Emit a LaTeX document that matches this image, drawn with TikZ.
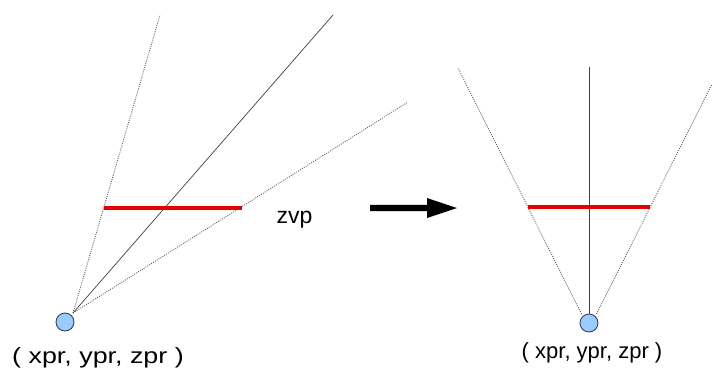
\documentclass[tikz,border=0pt]{standalone}
\usepackage{fontspec}
\setmainfont{Liberation Sans}
\definecolor{ptfill}{RGB}{153,204,255}
\definecolor{ptdraw}{RGB}{45,55,75}
\definecolor{rayred}{RGB}{228,0,0}
\definecolor{raygray}{RGB}{90,90,90}
\tikzset{
  pt/.style={circle, minimum size=18pt, inner sep=0pt, fill=ptfill, draw=ptdraw, line width=0.8pt},
  dotray/.style={draw=raygray, line width=0.9pt, dash pattern=on 0.9pt off 1.3pt},
  solidray/.style={draw=black!75, line width=0.7pt},
  plane/.style={draw=rayred, line width=3.2pt},
  lbl/.style={font=\fontsize{22}{26}\selectfont, inner sep=0pt, anchor=base},
  bigarrow/.style={fill=black}
}
\begin{document}
\begin{tikzpicture}[x=1pt,y=-1pt]
\useasboundingbox (0,0) rectangle (712,370);
% ---------- left diagram ----------
\coordinate (apexL) at (73,313);
\coordinate (topL1) at (160,15);
\coordinate (topL2) at (333,15);
\coordinate (topL3) at (408,102);
\coordinate (redL1) at (104,208);
\coordinate (redL2) at (242,208);
\draw[dotray] (apexL) -- (topL1);
\draw[dotray] (apexL) -- (topL3);
\draw[solidray] (apexL) -- (topL2);
\draw[plane] (redL1) -- (redL2);
\node[pt] (pl) at (65,322) {};
\node[lbl, xscale=1.22] (labL) at (98,363) {( xpr, ypr, zpr )};
\node[lbl, font=\fontsize{23}{27}\selectfont] (zvp) at (294.5,223) {zvp};
% ---------- arrow ----------
\coordinate (arrS) at (370,208);
\coordinate (arrT) at (457,208);
\fill[bigarrow] (370,204.8) -- (427,204.8) -- (427,198) -- (arrT) -- (427,218) -- (427,211.2) -- (370,211.2) -- cycle;
% ---------- right diagram ----------
\coordinate (botR1) at (581.5,314);
\coordinate (botR2) at (596.5,314);
\coordinate (topR1) at (458,68);
\coordinate (topR2) at (712,84);
\coordinate (topRc) at (589,67);
\coordinate (redR1) at (528,207);
\coordinate (redR2) at (650,207);
\draw[dotray] (botR1) -- (topR1);
\draw[dotray] (botR2) -- (topR2);
\node[pt] (pr) at (589,323) {};
\draw[solidray] (pr.north) -- (topRc);
\draw[plane] (redR1) -- (redR2);
\node[lbl] (labR) at (592,358) {( xpr, ypr, zpr )};
\end{tikzpicture}
\end{document}
